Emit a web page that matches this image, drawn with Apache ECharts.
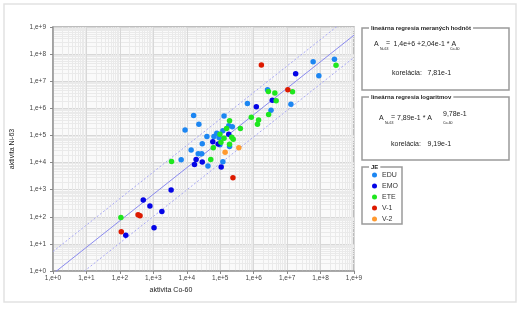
<!DOCTYPE html>
<html>
<head>
<meta charset="utf-8">
<script src="https://cdn.jsdelivr.net/npm/echarts@6/dist/echarts.min.js"></script>
<style>html,body{margin:0;padding:0;background:#fff;}#c{width:520px;height:325px;}</style>
</head>
<body>
<div id="c"></div>
<script>
// ---- data (activity pairs [Co-60, Ni-63]) ----
const seriesNames = ['EDU', 'EMO', 'ETE', 'V-1', 'V-2'];
const EDU = [
  [2.6e8, 6.5e7], [6.0e7, 5.2e7], [8.9e7, 1.6e7], [6.5e5, 1.5e6], [2.6e6, 4.8e6],
  [1.3e7, 1.4e6], [3.3e6, 8.5e5], [1.6e4, 5.4e5], [2.3e4, 2.6e5], [8.9e3, 1.6e5],
  [1.3e5, 5.2e5], [2.3e5, 2.1e5], [1.8e5, 2.3e5], [1.2e5, 1.5e5], [7.9e4, 1.2e5],
  [4.0e4, 9.1e4], [6.5e4, 9.1e4], [9.3e4, 8.3e4], [2.9e4, 4.9e4], [9.8e4, 4.5e4],
  [1.9e5, 3.9e4], [1.35e4, 2.9e4], [2.2e4, 2.1e4], [2.8e4, 2.1e4], [6.8e3, 1.26e4],
  [4.3e4, 7.4e3], [1.2e5, 1.07e4]
];
const EMO = [
  [1.8e7, 1.9e7], [1.2e6, 1.15e6], [3.6e6, 2.0e6], [1.8e5, 1.1e5], [6.0e4, 5.9e4],
  [1.9e4, 1.3e4], [2.9e4, 1.05e4], [1.07e5, 6.9e3], [3.4e3, 9.8e2], [5.0e2, 4.2e2],
  [7.9e2, 2.5e2], [1.8e3, 1.55e2], [1.05e3, 3.9e1], [1.5e2, 2.1e1], [8.7e4, 4.8e4],
  [1.7e4, 8.5e3]
];
const ETE = [
  [2.9e8, 3.9e7], [2.75e6, 4.2e6], [4.3e6, 3.7e6], [1.45e7, 4.1e6], [4.7e6, 1.9e6],
  [8.5e5, 4.7e5], [1.4e6, 3.7e5], [1.3e6, 2.6e5], [2.8e6, 5.9e5], [1.9e5, 3.5e5],
  [4.0e5, 1.8e5], [1.55e5, 1.8e5], [9.8e4, 1.1e5], [1.3e5, 7.9e4], [2.2e5, 8.5e4],
  [2.45e5, 7.2e4], [1.05e5, 5.6e4], [1.9e5, 4.7e4], [6.2e4, 3.5e4], [5.2e4, 1.3e4],
  [3.5e3, 1.1e4], [1.07e2, 9.5e1]
];
const V1 = [
  [1.7e6, 4.0e7], [1.05e7, 4.8e6], [2.4e5, 2.75e3], [3.5e2, 1.2e2], [4.0e2, 1.1e2],
  [1.1e2, 2.8e1]
];
const V2 = [
  [3.6e5, 3.5e4], [1.4e5, 2.4e4]
];
const tickLabels = ['1,e+0','1,e+1','1,e+2','1,e+3','1,e+4','1,e+5','1,e+6','1,e+7','1,e+8','1,e+9'];
// log regression A_Ni63 = a * A_Co60^b, band factor
const fitA = 0.789, fitB = 0.978, bandFactor = 6.6;
const fitX = [1, 1e9];

const colors = ['#1c86f2', '#0505e6', '#1ee61e', '#dd1a00', '#ff9a30'];
const FONT = '"Liberation Sans", Arial, sans-serif';

const fitLine = k => fitX.map(x => [x, k * fitA * Math.pow(x, fitB)]);

const chart = echarts.init(document.getElementById('c'), null, {renderer: 'canvas'});
const labelFmt = v => tickLabels[Math.round(Math.log10(v))] || '';

const axisCommon = {
  type: 'log', logBase: 10, min: 1, max: 1e9, interval: 1,
  axisLine: {show: true, lineStyle: {color: '#9a9a9a', width: 1.5}},
  axisTick: {show: true, length: 3, lineStyle: {color: '#888'}},
  axisLabel: {fontSize: 6.5, color: '#444', fontFamily: FONT, formatter: labelFmt},
  splitLine: {show: true, lineStyle: {color: '#d8d8d8', width: 1}},
  minorTick: {show: false, splitNumber: 10},
  minorSplitLine: {show: true, lineStyle: {color: '#eaeaea', width: 1}}
};

const scatter = (name, data, color) => ({
  name, type: 'scatter', data, symbol: 'circle', symbolSize: 5.5,
  itemStyle: {color, opacity: 1}, z: 5
});

chart.setOption({
  animation: false,
  backgroundColor: '#fff',
  grid: {left: 53, right: 166, top: 27, bottom: 54, show: true,
         backgroundColor: '#fafafa', borderColor: '#a8a8a8', borderWidth: 1.5},
  xAxis: Object.assign({}, axisCommon, {
    axisLabel: Object.assign({}, axisCommon.axisLabel, {margin: 4})
  }),
  yAxis: Object.assign({}, axisCommon, {
    name: 'aktivita Ni-63', nameLocation: 'middle', nameGap: 37, nameRotate: 90,
    nameTextStyle: {fontSize: 7, color: '#222', fontFamily: FONT},
    axisLabel: Object.assign({}, axisCommon.axisLabel, {margin: 7})
  }),
  legend: {
    show: true, orient: 'vertical', left: 367, top: 166,
    data: seriesNames, icon: 'circle', itemWidth: 5, itemHeight: 5, itemGap: 3,
    textStyle: {fontSize: 7, color: '#333', fontFamily: FONT, lineHeight: 8}
  },
  series: [
    scatter('EDU', EDU, colors[0]),
    scatter('EMO', EMO, colors[1]),
    scatter('ETE', ETE, colors[2]),
    scatter('V-1', V1, colors[3]),
    scatter('V-2', V2, colors[4]),
    {type: 'line', data: fitLine(1), symbol: 'none', silent: true, z: 3,
     lineStyle: {color: '#8a8aee', width: 1}},
    {type: 'line', data: fitLine(bandFactor), symbol: 'none', silent: true, z: 3,
     lineStyle: {color: '#a8a8f4', width: 1, type: [2, 2]}},
    {type: 'line', data: fitLine(1 / bandFactor), symbol: 'none', silent: true, z: 3,
     lineStyle: {color: '#a8a8f4', width: 1, type: [2, 2]}}
  ],
  graphic: [
    {type: 'rect', shape: {x: 4, y: 4, width: 512, height: 298}, z: -10,
     style: {fill: 'none', stroke: '#e2e2e2', lineWidth: 1.5}},
    {type: 'text', x: 171, y: 290, style: {text: 'aktivita Co-60', fontSize: 7, fill: '#222', fontFamily: FONT, align: 'center', verticalAlign: 'middle'}},
    // panel 1
    {type: 'rect', shape: {x: 362, y: 28, width: 147, height: 62}, style: {fill: 'none', stroke: '#9a9a9a', lineWidth: 1.5}},
    {type: 'text', x: 369, y: 28, style: {text: 'lineárna regresia meraných hodnôt', fontSize: 6, fontWeight: 'bold', fill: '#222', backgroundColor: '#fff', padding: [0, 2], fontFamily: FONT, verticalAlign: 'middle'}},
    {type: 'text', x: 374, y: 44, style: {text: 'A', fontSize: 7, fill: '#222', fontFamily: FONT, verticalAlign: 'middle'}},
    {type: 'text', x: 380, y: 49, style: {text: 'Ni-63', fontSize: 3.5, fill: '#222', fontFamily: FONT, verticalAlign: 'middle'}},
    {type: 'text', x: 386, y: 43.5, style: {text: '=', fontSize: 7, fill: '#222', fontFamily: FONT, verticalAlign: 'middle'}},
    {type: 'text', x: 393.5, y: 44, style: {text: '1,4e+6 +2,04e-1 * A', fontSize: 7, fill: '#222', fontFamily: FONT, verticalAlign: 'middle'}},
    {type: 'text', x: 450, y: 49, style: {text: 'Co-60', fontSize: 3.5, fill: '#222', fontFamily: FONT, verticalAlign: 'middle'}},
    {type: 'text', x: 392, y: 73, style: {text: 'korelácia:', fontSize: 7, fill: '#222', fontFamily: FONT, verticalAlign: 'middle'}},
    {type: 'text', x: 427.5, y: 73, style: {text: '7,81e-1', fontSize: 7, fill: '#222', fontFamily: FONT, verticalAlign: 'middle'}},
    // panel 2
    {type: 'rect', shape: {x: 362, y: 97, width: 147, height: 63}, style: {fill: 'none', stroke: '#9a9a9a', lineWidth: 1.5}},
    {type: 'text', x: 369, y: 97, style: {text: 'lineárna regresia logaritmov', fontSize: 6, fontWeight: 'bold', fill: '#222', backgroundColor: '#fff', padding: [0, 2], fontFamily: FONT, verticalAlign: 'middle'}},
    {type: 'text', x: 379, y: 118, style: {text: 'A', fontSize: 7, fill: '#222', fontFamily: FONT, verticalAlign: 'middle'}},
    {type: 'text', x: 385, y: 123, style: {text: 'Ni-63', fontSize: 3.5, fill: '#222', fontFamily: FONT, verticalAlign: 'middle'}},
    {type: 'text', x: 391, y: 117.5, style: {text: '=', fontSize: 7, fill: '#222', fontFamily: FONT, verticalAlign: 'middle'}},
    {type: 'text', x: 397, y: 118, style: {text: '7,89e-1 * A', fontSize: 7, fill: '#222', fontFamily: FONT, verticalAlign: 'middle'}},
    {type: 'text', x: 443, y: 123, style: {text: 'Co-60', fontSize: 3.5, fill: '#222', fontFamily: FONT, verticalAlign: 'middle'}},
    {type: 'text', x: 443, y: 114, style: {text: '9,78e-1', fontSize: 7, fill: '#222', fontFamily: FONT, verticalAlign: 'middle'}},
    {type: 'text', x: 391, y: 144, style: {text: 'korelácia:', fontSize: 7, fill: '#222', fontFamily: FONT, verticalAlign: 'middle'}},
    {type: 'text', x: 427.5, y: 144, style: {text: '9,19e-1', fontSize: 7, fill: '#222', fontFamily: FONT, verticalAlign: 'middle'}},
    // legend frame
    {type: 'rect', shape: {x: 362, y: 167, width: 40, height: 57}, style: {fill: 'none', stroke: '#9a9a9a', lineWidth: 1.5}},
    {type: 'text', x: 369, y: 167, style: {text: 'JE', fontSize: 6, fontWeight: 'bold', fill: '#222', backgroundColor: '#fff', padding: [0, 2], fontFamily: FONT, verticalAlign: 'middle'}}
  ]
});
</script>
</body>
</html>
